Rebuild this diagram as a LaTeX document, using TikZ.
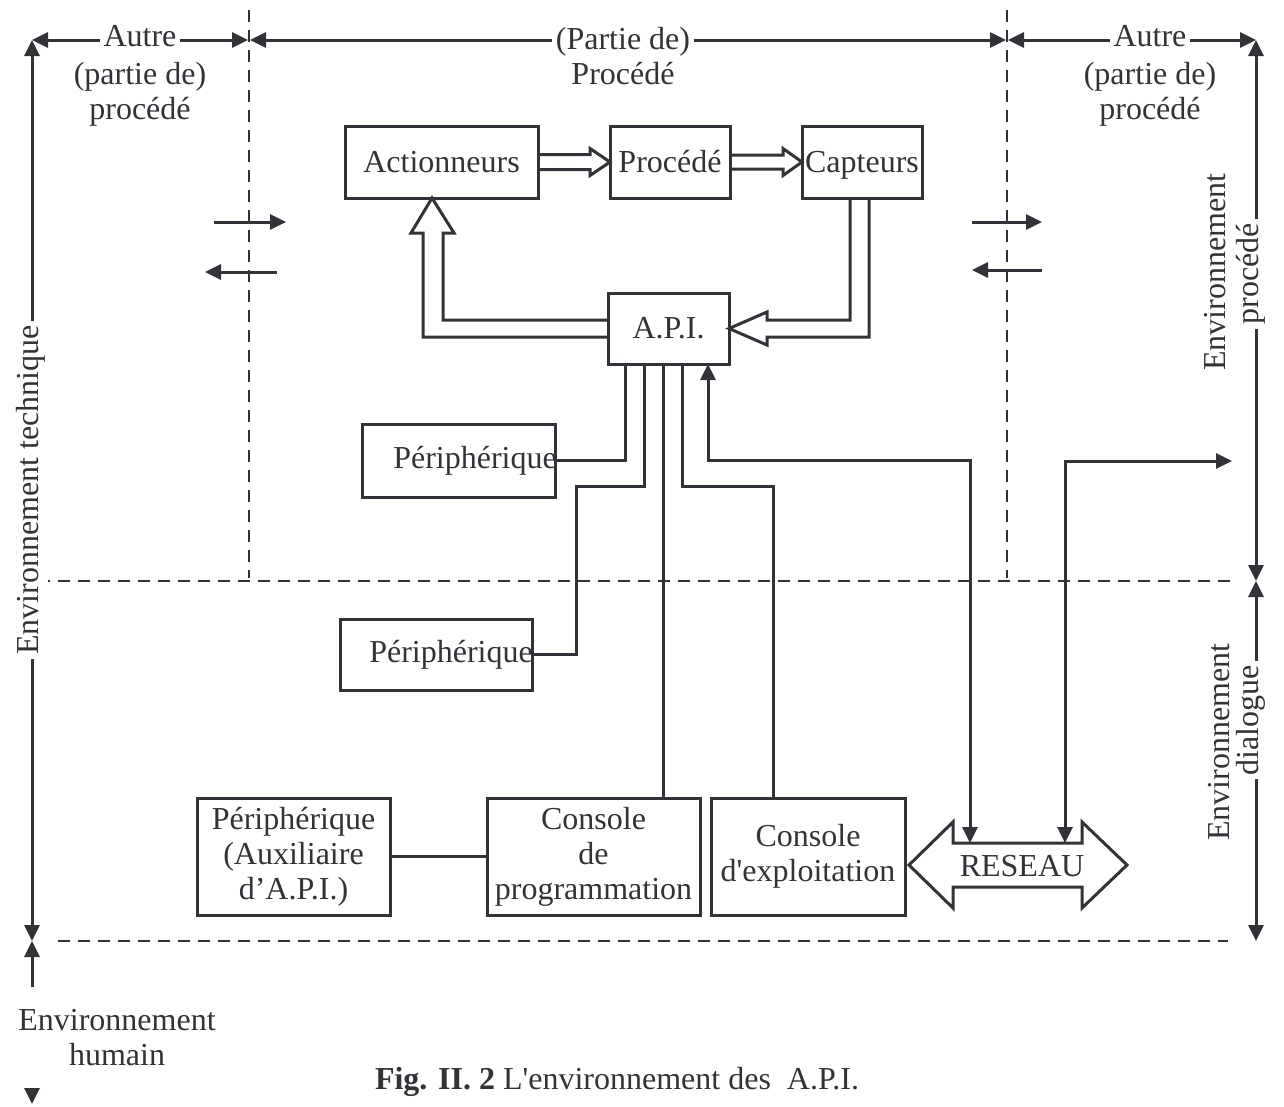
\documentclass[tikz,border=0pt]{standalone}
\usepackage{fontspec}
\setmainfont{Liberation Serif}[Ligatures=TeXOff]
\usetikzlibrary{arrows.meta,calc}
\definecolor{ink}{RGB}{50,50,56}
\begin{document}
\begin{tikzpicture}[x=1pt,y=-1pt,
  >={Triangle[length=16pt,width=15pt]},
  ln/.style={draw=ink, line width=3pt},
  dsh/.style={draw=ink, line width=2.6pt, dash pattern=on 12pt off 8pt},
  box/.style={draw=ink, line width=3pt, text=ink, font=\fontsize{32}{35}\selectfont, align=center, inner sep=0pt, outer sep=0pt},
  txt/.style={text=ink, font=\fontsize{32}{35}\selectfont, align=center, inner sep=0pt},
  gap/.style={txt, fill=white, inner xsep=4pt, inner ysep=2pt}
]
\useasboundingbox (0,0) rectangle (1284,1106);

% dashed zone borders
\draw[dsh] (249,10) -- (249,578);
\draw[dsh] (1007,10) -- (1007,578);
\draw[dsh] (38,581) -- (1232,581);
\draw[dsh] (58,941) -- (1228,941);

% dimension lines
\draw[ln,<->] (32,40) -- (248,40);
\draw[ln,<->] (250,40) -- (1006,40);
\draw[ln,<->] (1008,40) -- (1256,40);
\draw[ln,<->] (32,40) -- (32,941);
\draw[ln,<-] (32,941) -- (32,987);
\draw[ln,->] (32,1089) -- (32,1104);
\draw[ln,<->] (1256,40) -- (1256,581);
\draw[ln,<->] (1256,581) -- (1256,941);

% labels on dimension lines
\node[gap, anchor=base] (autreL) at (140,46) {Autre};
\node[txt, anchor=base] at (140,84) {(partie de)};
\node[txt, anchor=base] at (140,119) {procédé};
\node[gap, anchor=base] (partie) at (623,49) {(Partie de)};
\node[txt, anchor=base] at (623,84) {Procédé};
\node[gap, anchor=base] (autreR) at (1150,46) {Autre};
\node[txt, anchor=base] at (1150,84) {(partie de)};
\node[txt, anchor=base] at (1150,119) {procédé};
\node[gap, rotate=90] (envtech) at (31,490) {Environnement technique};
\node[txt, rotate=90] (envp1) at (1215,272) {Environnement};
\node[gap, rotate=90] (envp2) at (1251,274) {procédé};
\node[txt, rotate=90] (envd1) at (1219,742) {Environnement};
\node[gap, rotate=90] (envd2) at (1251,720) {dialogue};
\node[txt] (envh) at (117,1038) {Environnement\\humain};

% small exchange arrows
\coordinate (sa1) at (214,222); \coordinate (sb1) at (286,222);
\coordinate (sa2) at (277,272); \coordinate (sb2) at (205,272);
\coordinate (sa3) at (972,222); \coordinate (sb3) at (1042,222);
\coordinate (sa4) at (1042,270); \coordinate (sb4) at (972,270);
\draw[ln,->] (sa1) -- (sb1);
\draw[ln,->] (sa2) -- (sb2);
\draw[ln,->] (sa3) -- (sb3);
\draw[ln,->] (sa4) -- (sb4);

% boxes
\node[box, minimum width=193pt, minimum height=72pt] (act) at (441.5,162) {Actionneurs};
\node[box, minimum width=120pt, minimum height=72pt] (proc) at (670,162) {Procédé};
\node[box, minimum width=120pt, minimum height=72pt, text depth=0pt] (capt) at (862,162) {Capteurs};
\node[box, minimum width=121pt, minimum height=71pt] (api) at (668.5,328.5) {A.P.I.};
\node[box, minimum width=193pt, minimum height=73pt] (p1) at (458.5,460.5) {};
\node[txt, anchor=east] (p1t) at ($(p1.east)+(2,0)$) {Périphérique};
\node[box, minimum width=192pt, minimum height=71pt] (p2) at (436,654.5) {};
\node[txt, anchor=east] (p2t) at ($(p2.east)+(1,0)$) {Périphérique};
\node[box, minimum width=193pt, minimum height=117pt] (aux) at (293.5,856.5) {Périphérique\\(Auxiliaire\\d’A.P.I.)};
\node[box, minimum width=213pt, minimum height=117pt] (cprog) at (593.5,856.5) {Console\\de\\programmation};
\node[box, minimum width=194pt, minimum height=117pt] (cexp) at (808,856.5) {Console\\d'exploitation};

% RESEAU double arrow
\draw[ln] (909,865) -- (953,822) -- (953,843) -- (1082,843) -- (1082,822) -- (1127,865)
  -- (1082,908) -- (1082,887) -- (953,887) -- (953,908) -- cycle;
\node[txt] (res) at (1022,866) {RESEAU};

% hollow arrows
\draw[ln] ($(act.east)+(0,-7.5)$) -- ++(52,0) -- ++(0,-6) -- (proc.west) -- ++(-20,13.5) -- ++(0,-6) -- ($(act.east)+(0,7.5)$);
\draw[ln] ($(proc.east)+(0,-7)$) -- ++(53,0) -- ++(0,-6.5) -- (capt.west) -- ++(-19,13.5) -- ++(0,-6.5) -- ($(proc.east)+(0,7)$);
\draw[ln] ($(capt.south)+(-12,0)$) -- ++(0,122) -- (767,320) -- (767,312) -- (api.east) -- (767,345) -- (767,337) -- ($(capt.south)+(7,139)$) -- ($(capt.south)+(7,0)$);
\draw[ln] ($(api.west)+(0,-8.5)$) -- (443,320) -- (443,233) -- (454,233) -- ($(act.south)+(-9.5,0)$) -- (411,233) -- (423,233) -- (423,337) -- ($(api.west)+(0,8.5)$);

% connections from the API
\coordinate (c1) at ($(api.south west)+(17,0)$);
\coordinate (c2) at ($(api.south west)+(36,0)$);
\coordinate (c3) at ($(api.south west)+(55,0)$);
\coordinate (c4) at ($(api.south west)+(74,0)$);
\coordinate (c5) at ($(api.south west)+(100,0)$);
\coordinate (k2) at (576,486);
\coordinate (k4) at (773,486);
\coordinate (k5) at (970,460);
\coordinate (r1) at (970,843);
\coordinate (k6) at (1065,461);
\coordinate (r2) at (1065,843);
\coordinate (e6) at (1232,461);
\draw[ln] (c1) |- (p1.east);
\draw[ln] (c2) |- (k2) |- (p2.east);
\draw[ln] (c3) -- (c3 |- cprog.north);
\draw[ln] (c4) |- (k4) -- (k4 |- cexp.north);
\draw[ln,<->] (c5) |- (k5) -- (r1);
\draw[ln,<->] (r2) -- (k6) -- (e6);
\draw[ln] (aux.east) -- (cprog.west);

% caption
\node[txt] (cap) at (617,1082) {\textbf{Fig. II. 2} L'environnement des\ \ A.P.I.};
\end{tikzpicture}
\end{document}
